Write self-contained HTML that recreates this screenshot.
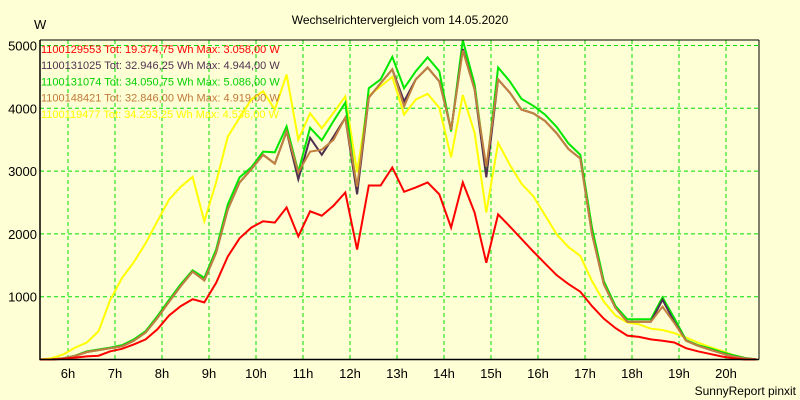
<!DOCTYPE html>
<html><head><meta charset="utf-8"><style>
body{margin:0;background:#FFFFD5;}
svg{display:block;font-family:"Liberation Sans",sans-serif;}
</style></head><body>
<svg id="chart" width="800" height="400" viewBox="0 0 800 400">
<rect x="0" y="0" width="800" height="400" fill="#FFFFD5"/>
<text x="400" y="24" text-anchor="middle" font-size="12" fill="#000">Wechselrichtervergleich vom 14.05.2020</text>
<text x="34" y="29" font-size="13" fill="#000">W</text>
<g id="grid"></g>
<g id="series"></g>
<g id="axes"></g>
<g id="legend"></g>
<text x="796" y="395" text-anchor="end" font-size="12" fill="#000">SunnyReport pinxit</text>
</svg>
<script>
const yTicks = [1000, 2000, 3000, 4000, 5000];
const xTickHours = [6,7,8,9,10,11,12,13,14,15,16,17,18,19,20];
const seriesNames = ["1100129553 Tot: 19.374,75 Wh Max: 3.058,00 W","1100131025 Tot: 32.946,25 Wh Max: 4.944,00 W","1100131074 Tot: 34.050,75 Wh Max: 5.086,00 W","1100148421 Tot: 32.846,00 Wh Max: 4.919,00 W","1100119477 Tot: 34.293,25 Wh Max: 4.536,00 W"];
const red = [0,0,10,30,50,60,130,170,240,320,480,700,850,960,910,1220,1640,1930,2100,2200,2180,2420,1960,2360,2290,2450,2660,1750,2770,2770,3058,2670,2740,2820,2630,2100,2820,2340,1540,2310,2120,1920,1720,1530,1340,1200,1080,850,650,500,380,360,320,300,270,180,130,90,50,20,0,0];
const dark = [0,0,20,55,120,150,180,210,300,430,660,920,1170,1400,1260,1700,2390,2820,3030,3260,3120,3630,2870,3530,3260,3550,3850,2630,4170,4400,4620,4110,4460,4650,4430,3660,4944,4300,2900,4460,4250,3980,3920,3800,3600,3350,3200,2000,1200,820,600,600,600,950,600,300,220,160,100,50,20,0];
const green = [0,0,20,60,130,160,190,230,320,450,690,950,1200,1420,1300,1750,2470,2900,3060,3310,3300,3710,2990,3690,3490,3800,4090,2660,4320,4460,4820,4320,4590,4810,4590,3630,5086,4380,2990,4650,4430,4150,4040,3900,3700,3440,3260,2100,1250,850,640,640,640,990,660,310,230,180,120,70,25,0];
const brown = [0,0,20,55,120,150,180,210,300,430,660,920,1170,1400,1260,1700,2390,2820,3030,3260,3120,3630,2980,3310,3340,3500,3850,2750,4170,4400,4620,4030,4460,4650,4430,3660,4919,4300,3070,4460,4250,3980,3920,3800,3600,3350,3200,2000,1200,820,600,600,600,840,580,300,220,160,100,50,20,0];
const yellow = [0,20,80,190,270,450,950,1300,1550,1850,2200,2550,2750,2910,2200,2820,3550,3850,4140,4270,3980,4536,3500,3920,3680,3930,4190,2980,4200,4350,4500,3900,4140,4230,4010,3220,4210,3610,2340,3450,3100,2800,2600,2300,1990,1790,1650,1250,920,700,590,560,490,470,420,350,270,200,140,70,20,0];
const startHour = 5.4, stepHour = 0.25;

const NS = "http://www.w3.org/2000/svg";
const L = 40, R = 759, T = 40, B = 359.5;
function xOfHour(h){ return 68 + (h - 6) * 47; }
function xOfIndex(i){ return xOfHour(startHour + i * stepHour); }
function yOf(v){ return B - v * 0.0628; }
function mk(tag, attrs, parent){ const e = document.createElementNS(NS, tag); for (const k in attrs) e.setAttribute(k, attrs[k]); parent.appendChild(e); return e; }

const grid = document.getElementById('grid');
yTicks.forEach(v => {
  const l = mk('line', {x1:L, x2:R, y1:yOf(v), y2:yOf(v), stroke:'#00E000', 'stroke-width':1, 'stroke-dasharray':'4,3'}, grid);
  
  
  const t = mk('text', {x:37, y:yOf(v)+5, 'text-anchor':'end', 'font-size':13, fill:'#000'}, grid);
  t.textContent = v;
  
  
});
xTickHours.forEach(h => {
  const l = mk('line', {x1:xOfHour(h), x2:xOfHour(h), y1:T, y2:B, stroke:'#00E000', 'stroke-width':1, 'stroke-dasharray':'4,3'}, grid);
  
  
  const t = mk('text', {x:xOfHour(h), y:378, 'text-anchor':'middle', 'font-size':13, fill:'#000'}, grid);
  t.textContent = h + 'h';
  
  
});

const seriesG = document.getElementById('series');
const drawOrder = [[yellow,'#FFFF00','series-1100119477'],[green,'#00E800','series-1100131074'],[dark,'#503050','series-1100131025'],[brown,'#C08040','series-1100148421'],[red,'#FF0000','series-1100129553']];
drawOrder.forEach(([arr,col,name]) => {
  const pts = arr.map((v,i) => xOfIndex(i).toFixed(1) + ',' + yOf(v).toFixed(1)).join(' ');
  const p = mk('polyline', {points:pts, fill:'none', stroke:col, 'stroke-width':2, 'stroke-linejoin':'miter'}, seriesG);
  
  
});

const axes = document.getElementById('axes');
const ax1 = mk('line', {x1:L, x2:L, y1:T, y2:B+0.5, stroke:'#000', 'stroke-width':1.5}, axes);


const ax2 = mk('line', {x1:L, x2:R, y1:B, y2:B, stroke:'#000', 'stroke-width':1.5}, axes);


const ax3 = mk('line', {x1:L, x2:R, y1:T, y2:T, stroke:'#000', 'stroke-width':1}, axes);


const ax4 = mk('line', {x1:R, x2:R, y1:T, y2:B, stroke:'#000', 'stroke-width':1}, axes);



const legend = document.getElementById('legend');
const legendColors = ['#FF0000','#503050','#00D000','#C07838','#FFFF00'];
seriesNames.forEach((n,i) => {
  const t = mk('text', {x:41, y:53 + i*16.2, 'font-size':11, fill:legendColors[i]}, legend);
  t.textContent = n;
  
  
});
</script>
</body></html>
